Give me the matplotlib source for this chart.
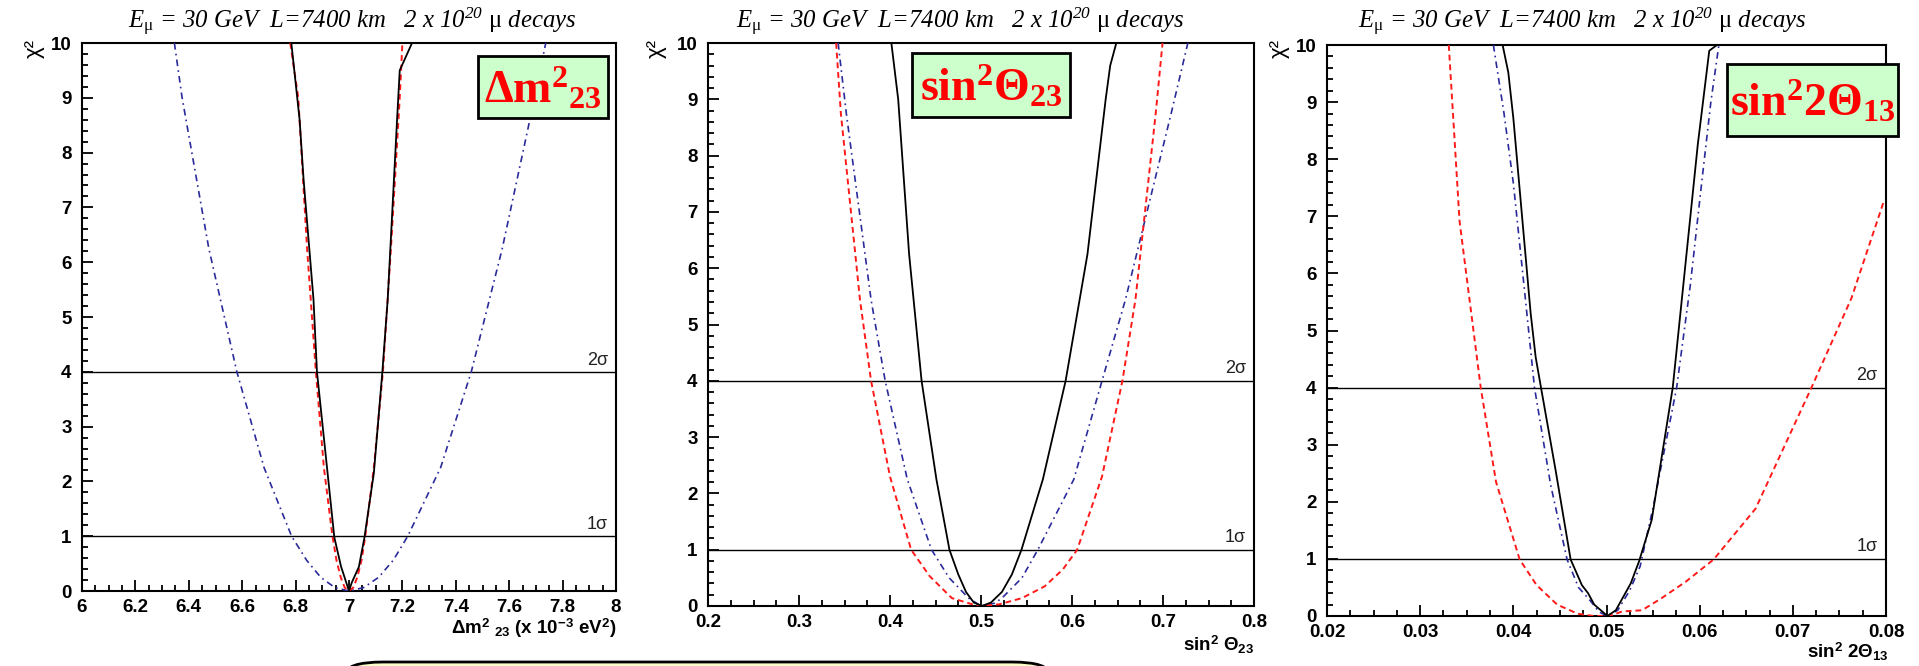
import matplotlib
matplotlib.use("Agg")
import matplotlib.pyplot as plt
from matplotlib.ticker import MultipleLocator, FuncFormatter
from matplotlib.patches import Rectangle, FancyBboxPatch

plt.rcParams['mathtext.fontset'] = 'custom'
plt.rcParams['mathtext.rm'] = 'Liberation Serif:italic'
plt.rcParams['mathtext.it'] = 'Liberation Serif:italic'
plt.rcParams['mathtext.bf'] = 'Liberation Serif:bold'
plt.rcParams['mathtext.sf'] = 'Liberation Sans:bold'
plt.rcParams['mathtext.tt'] = 'Liberation Serif'

# ---------------- data ----------------
# Panel 1: Delta m^2_23 (x 1e-3 eV^2)
p1_black_x = [6.784, 6.815, 6.83, 6.867, 6.88, 6.945, 6.97, 7.0, 7.01, 7.037, 7.058, 7.093, 7.125, 7.145, 7.18, 7.19, 7.236]
p1_black_y = [10, 8.6, 7.5, 5.32, 4.0, 0.98, 0.45, 0, 0.15, 0.44, 0.98, 2.15, 4.0, 5.32, 8.6, 9.5, 10]
p1_red_x = [6.78, 6.81, 6.843, 6.876, 6.906, 6.938, 6.953, 6.969, 6.984, 7.0, 7.016, 7.031, 7.047, 7.061, 7.093, 7.127, 7.157, 7.19, 7.20]
p1_red_y = [10, 9, 6.25, 4, 2.25, 1, 0.5625, 0.25, 0.0625, 0, 0.0625, 0.25, 0.5625, 1, 2.25, 4, 6.25, 9, 10]
p1_blue_x = [6.346, 6.375, 6.475, 6.58, 6.682, 6.785, 6.841, 6.894, 6.947, 7.0, 7.055, 7.111, 7.166, 7.22, 7.343, 7.458, 7.574, 7.695, 7.737]
p1_blue_y = [10, 9, 6.25, 4, 2.25, 1, 0.5625, 0.25, 0.0625, 0, 0.0625, 0.25, 0.5625, 1, 2.25, 4, 6.25, 9, 10]

# Panel 2: sin^2 theta_23
p2_black_x = [0.4015, 0.409, 0.421, 0.4347, 0.451, 0.4653, 0.475, 0.4835, 0.492, 0.501, 0.511, 0.523, 0.534, 0.5445, 0.568, 0.593, 0.617, 0.637, 0.642, 0.6487]
p2_black_y = [10, 9, 6.25, 4, 2.25, 1, 0.5625, 0.25, 0.0625, 0, 0.0625, 0.25, 0.5625, 1, 2.25, 4, 6.25, 9, 9.6, 10]
p2_red_x = [0.3408, 0.346, 0.367, 0.3792, 0.40, 0.4232, 0.4436, 0.468, 0.4925, 0.50, 0.52, 0.545, 0.57, 0.59, 0.6057, 0.633, 0.6554, 0.6697, 0.692, 0.6995]
p2_red_y = [10, 8.75, 5.44, 4, 2.3, 1, 0.53, 0.14, 0.02, 0, 0.03, 0.14, 0.35, 0.65, 1.0, 2.3, 4, 5.44, 8.75, 10]
p2_blue_x = [0.343, 0.352, 0.3792, 0.3947, 0.419, 0.4456, 0.465, 0.4864, 0.50, 0.515, 0.523, 0.545, 0.5625, 0.602, 0.633, 0.6587, 0.709, 0.7273]
p2_blue_y = [10, 8.75, 5.44, 4, 2.25, 1, 0.5, 0.14, 0, 0.05, 0.14, 0.5, 1, 2.25, 4, 5.44, 8.75, 10]

# Panel 3: sin^2 2theta_13
p3_black_x = [0.03885, 0.03946, 0.0400, 0.04186, 0.0424, 0.04297, 0.04454, 0.04615, 0.04736, 0.04802, 0.04868, 0.0501, 0.0510, 0.0526, 0.0535, 0.05485, 0.05711, 0.0598, 0.06103, 0.06186]
p3_black_y = [10, 9.52, 8.72, 5.30, 4.53, 4.0, 2.55, 0.99, 0.54, 0.40, 0.2, 0, 0.1, 0.57, 0.96, 1.68, 4.0, 8.26, 9.9, 10]
p3_blue_x = [0.03786, 0.0390, 0.0400, 0.0412, 0.04227, 0.0440, 0.04577, 0.0470, 0.04825, 0.0492, 0.0501, 0.0512, 0.0525, 0.05361, 0.0550, 0.05753, 0.0590, 0.06021, 0.0612, 0.06206]
p3_blue_y = [10, 8.8, 7.58, 5.7, 4.0, 2.3, 0.99, 0.5, 0.27, 0.07, 0, 0.1, 0.45, 0.87, 1.9, 4.0, 5.8, 7.58, 9.0, 10]
p3_red_x = [0.03307, 0.03423, 0.0365, 0.03814, 0.04068, 0.0425, 0.0447, 0.0469, 0.0486, 0.0503, 0.0517, 0.0538, 0.0558, 0.0585, 0.0615, 0.066, 0.0720, 0.0763, 0.0798]
p3_red_y = [10, 6.91, 4.0, 2.35, 0.99, 0.54, 0.2, 0.04, 0.0, 0, 0.08, 0.1, 0.3, 0.6, 0.99, 1.88, 4.0, 5.57, 7.28]

sigma_levels = [1, 4]
sigma_labels = ["1σ", "2σ"]

title = r"E$_{\mathtt{\mu}}$ = 30 GeV  L=7400 km   2 x 10$^{20}$ $\mathtt{\mu}$ decays"

panels = [
    dict(rect=(82, 43, 616, 591), xlim=(6, 8), major=0.2, minor=0.05,
         curves=[(p1_blue_x, p1_blue_y), (p1_red_x, p1_red_y), (p1_black_x, p1_black_y)],
         xlabel=r"Δm$^{\mathsf{2}}$ $_{\mathsf{23}}$ (x 10$^{\mathsf{-3}}$ eV$^{\mathsf{2}}$)",
         xlab_pos=(616, 628), box=(478, 56, 130, 62), boxtext=r"Δm$^{\mathbf{2}}{}_{\mathbf{23}}$",
         title_x=352, chi_x=34),
    dict(rect=(708, 43, 1254, 606), xlim=(0.2, 0.8), major=0.1, minor=0.025,
         curves=[(p2_blue_x, p2_blue_y), (p2_red_x, p2_red_y), (p2_black_x, p2_black_y)],
         xlabel=r"sin$^{\mathsf{2}}$ Θ$_{\mathsf{23}}$",
         xlab_pos=(1254, 645), box=(912, 53, 158, 64), boxtext=r"sin$^{\mathbf{2}}$Θ$_{\mathbf{23}}$",
         title_x=960, chi_x=656),
    dict(rect=(1327, 45, 1886, 616), xlim=(0.02, 0.08), major=0.01, minor=0.0025,
         curves=[(p3_blue_x, p3_blue_y), (p3_red_x, p3_red_y), (p3_black_x, p3_black_y)],
         xlabel=r"sin$^{\mathsf{2}}$ 2Θ$_{\mathsf{13}}$",
         xlab_pos=(1889, 652), box=(1727, 64, 171, 72), boxtext=r"sin$^{\mathbf{2}}$2Θ$_{\mathbf{13}}$",
         title_x=1582, chi_x=1279),
]

W, H = 1919, 666
fig = plt.figure(figsize=(W / 100, H / 100), dpi=100)
fig.patch.set_facecolor('white')

styles = [dict(color='#2a2a9a', lw=1.2, ls=(0, (4, 2.5, 1, 2.5))),
          dict(color='#ff1a1a', lw=1.4, ls=(0, (3, 2))),
          dict(color='black', lw=1.3, ls='-')]

def fmt(v, pos):
    s = ('%.3f' % v).rstrip('0').rstrip('.')
    return s

for p in panels:
    l, t, r, b = p['rect']
    ax = fig.add_axes([l / W, (H - b) / H, (r - l) / W, (b - t) / H])
    ax.set_xlim(*p['xlim'])
    ax.set_ylim(0, 10)
    for lev in sigma_levels:
        ax.axhline(lev, color='black', lw=1.0, zorder=1)
    for (xs, ys), st in zip(p['curves'], styles):
        ax.plot(xs, ys, zorder=3, clip_on=True, **st)
    for lev, lab in zip(sigma_levels, sigma_labels):
        ax.text(0.985, lev + 0.06, lab, transform=ax.get_yaxis_transform(), ha='right', va='bottom',
                fontsize=13, family=['Liberation Sans', 'DejaVu Sans'], color='#222222')
    ax.xaxis.set_major_locator(MultipleLocator(p['major']))
    ax.xaxis.set_minor_locator(MultipleLocator(p['minor']))
    ax.yaxis.set_major_locator(MultipleLocator(1))
    ax.yaxis.set_minor_locator(MultipleLocator(0.2))
    ax.xaxis.set_major_formatter(FuncFormatter(fmt))
    ax.yaxis.set_major_formatter(FuncFormatter(fmt))
    ax.tick_params(which='both', direction='in', width=1.3, top=False, right=False)
    ax.tick_params(which='major', length=8, labelsize=13.5)
    ax.tick_params(which='minor', length=4.5)
    ax.tick_params(axis='x', pad=6)
    ax.tick_params(axis='y', pad=7.5)
    for lbl in ax.get_xticklabels() + ax.get_yticklabels():
        lbl.set_fontfamily('Liberation Sans')
        lbl.set_fontweight('bold')
    for sp in ax.spines.values():
        sp.set_linewidth(1.5)
    # x label
    fig.text(p['xlab_pos'][0] / W, 1 - p['xlab_pos'][1] / H, p['xlabel'], ha='right', va='center',
             fontsize=13.5, family='Liberation Sans', weight='bold')
    # title
    fig.text(p['title_x'] / W, 1 - 22 / H, title, ha='center', va='center', fontsize=17.8,
             family='Liberation Serif', style='italic')
    # chi^2 label
    fig.text(p['chi_x'] / W, 1 - 48 / H, "χ²", rotation=90, ha='center', va='center', fontsize=16,
             family=['Liberation Sans', 'DejaVu Sans'])
    # parameter box
    bx, by, bw, bh = p['box']
    fig.patches.append(Rectangle((bx / W, 1 - (by + bh) / H), bw / W, bh / H, transform=fig.transFigure,
                                 facecolor='#ccffcc', edgecolor='black', lw=2.0, zorder=5))
    fig.text((bx + bw / 2) / W, 1 - (by + bh / 2 + 2) / H, p['boxtext'], ha='center', va='center',
             fontsize=33, family='Liberation Serif', weight='bold', color='#ff0000', zorder=6)

# bottom rounded box (partially visible)
fig.patches.append(FancyBboxPatch((345 / W, -0.2), 705 / W, (0.2 + (H - 662) / H),
                                  boxstyle='round,pad=0,rounding_size=0.02', transform=fig.transFigure,
                                  facecolor='#ffffcc', edgecolor='black', lw=2.0, zorder=5))

fig.savefig('out.png', dpi=100, facecolor='white')
